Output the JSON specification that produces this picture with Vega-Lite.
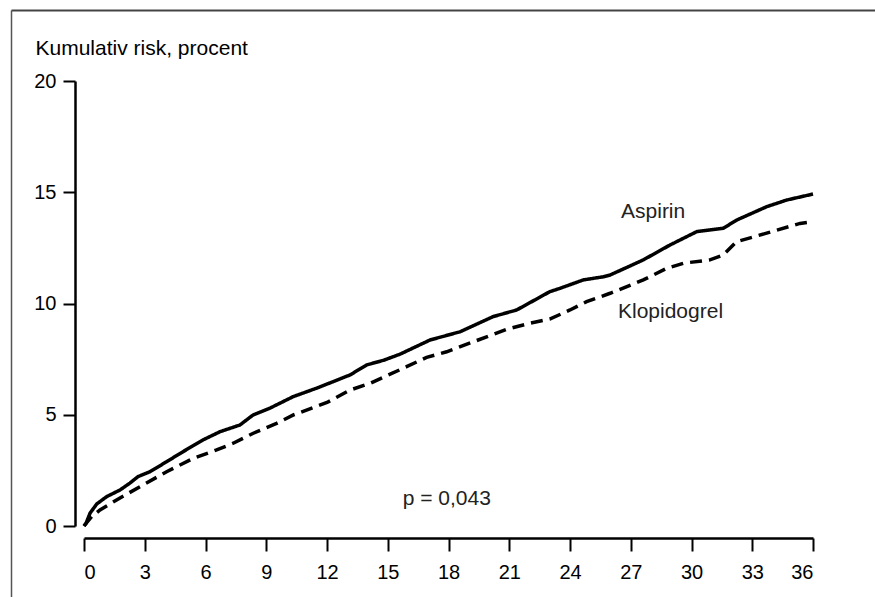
{
  "$schema": "https://vega.github.io/schema/vega-lite/v6.json",
  "width": 864,
  "height": 587,
  "autosize": {"type": "none"},
  "padding": {"left": 11, "top": 10, "right": 0, "bottom": 0},
  "background": "white",
  "config": {
    "font": "Liberation Sans",
    "view": {"stroke": null},
    "axis": {"labelColor": "black", "labelFont": "Liberation Sans", "titleFont": "Liberation Sans"}
  },
  "datasets": {
    "curves": [
      {"series": "Aspirin", "month": 0, "risk": 0},
      {"series": "Aspirin", "month": 0.1, "risk": 0.12},
      {"series": "Aspirin", "month": 0.3, "risk": 0.58},
      {"series": "Aspirin", "month": 0.63, "risk": 0.99},
      {"series": "Aspirin", "month": 1.12, "risk": 1.32},
      {"series": "Aspirin", "month": 1.78, "risk": 1.62},
      {"series": "Aspirin", "month": 2.27, "risk": 1.93},
      {"series": "Aspirin", "month": 2.67, "risk": 2.22},
      {"series": "Aspirin", "month": 3.26, "risk": 2.44},
      {"series": "Aspirin", "month": 4.08, "risk": 2.89},
      {"series": "Aspirin", "month": 4.89, "risk": 3.34},
      {"series": "Aspirin", "month": 5.88, "risk": 3.87},
      {"series": "Aspirin", "month": 6.72, "risk": 4.24},
      {"series": "Aspirin", "month": 7.7, "risk": 4.54},
      {"series": "Aspirin", "month": 8.35, "risk": 4.99},
      {"series": "Aspirin", "month": 9.19, "risk": 5.3},
      {"series": "Aspirin", "month": 10.32, "risk": 5.81},
      {"series": "Aspirin", "month": 11.5, "risk": 6.2},
      {"series": "Aspirin", "month": 12.2, "risk": 6.45},
      {"series": "Aspirin", "month": 13.14, "risk": 6.79},
      {"series": "Aspirin", "month": 13.96, "risk": 7.24},
      {"series": "Aspirin", "month": 14.8, "risk": 7.45},
      {"series": "Aspirin", "month": 15.6, "risk": 7.72},
      {"series": "Aspirin", "month": 17.09, "risk": 8.36},
      {"series": "Aspirin", "month": 18.57, "risk": 8.73},
      {"series": "Aspirin", "month": 20.2, "risk": 9.41},
      {"series": "Aspirin", "month": 21.37, "risk": 9.71},
      {"series": "Aspirin", "month": 23.0, "risk": 10.53},
      {"series": "Aspirin", "month": 23.5, "risk": 10.68},
      {"series": "Aspirin", "month": 24.66, "risk": 11.06},
      {"series": "Aspirin", "month": 25.64, "risk": 11.2},
      {"series": "Aspirin", "month": 25.98, "risk": 11.28},
      {"series": "Aspirin", "month": 27.62, "risk": 11.96},
      {"series": "Aspirin", "month": 28.94, "risk": 12.63},
      {"series": "Aspirin", "month": 30.26, "risk": 13.23},
      {"series": "Aspirin", "month": 31.57, "risk": 13.38},
      {"series": "Aspirin", "month": 32.23, "risk": 13.75},
      {"series": "Aspirin", "month": 33.71, "risk": 14.35},
      {"series": "Aspirin", "month": 34.7, "risk": 14.65},
      {"series": "Aspirin", "month": 36.0, "risk": 14.92},
      {"series": "Klopidogrel", "month": 0, "risk": 0},
      {"series": "Klopidogrel", "month": 0.38, "risk": 0.42},
      {"series": "Klopidogrel", "month": 0.79, "risk": 0.72},
      {"series": "Klopidogrel", "month": 1.61, "risk": 1.17},
      {"series": "Klopidogrel", "month": 2.77, "risk": 1.77},
      {"series": "Klopidogrel", "month": 4.08, "risk": 2.44},
      {"series": "Klopidogrel", "month": 5.4, "risk": 3.04},
      {"series": "Klopidogrel", "month": 6.55, "risk": 3.42},
      {"series": "Klopidogrel", "month": 7.37, "risk": 3.72},
      {"series": "Klopidogrel", "month": 8.36, "risk": 4.17},
      {"series": "Klopidogrel", "month": 9.51, "risk": 4.61},
      {"series": "Klopidogrel", "month": 10.34, "risk": 4.99},
      {"series": "Klopidogrel", "month": 12.0, "risk": 5.55},
      {"series": "Klopidogrel", "month": 13.14, "risk": 6.11},
      {"series": "Klopidogrel", "month": 14.12, "risk": 6.41},
      {"series": "Klopidogrel", "month": 15.93, "risk": 7.16},
      {"series": "Klopidogrel", "month": 16.92, "risk": 7.58},
      {"series": "Klopidogrel", "month": 17.91, "risk": 7.83},
      {"series": "Klopidogrel", "month": 19.23, "risk": 8.28},
      {"series": "Klopidogrel", "month": 20.87, "risk": 8.84},
      {"series": "Klopidogrel", "month": 22.02, "risk": 9.11},
      {"series": "Klopidogrel", "month": 23.0, "risk": 9.3},
      {"series": "Klopidogrel", "month": 24.0, "risk": 9.71},
      {"series": "Klopidogrel", "month": 24.82, "risk": 10.08},
      {"series": "Klopidogrel", "month": 25.98, "risk": 10.46},
      {"series": "Klopidogrel", "month": 27.62, "risk": 11.06},
      {"series": "Klopidogrel", "month": 28.77, "risk": 11.58},
      {"series": "Klopidogrel", "month": 29.6, "risk": 11.81},
      {"series": "Klopidogrel", "month": 30.91, "risk": 11.96},
      {"series": "Klopidogrel", "month": 31.57, "risk": 12.18},
      {"series": "Klopidogrel", "month": 32.23, "risk": 12.78},
      {"series": "Klopidogrel", "month": 33.71, "risk": 13.16},
      {"series": "Klopidogrel", "month": 35.36, "risk": 13.6},
      {"series": "Klopidogrel", "month": 36.0, "risk": 13.68}
    ],
    "labels": [
      {"label": "Aspirin", "month": 26.52, "risk": 13.84},
      {"label": "Klopidogrel", "month": 26.37, "risk": 9.35},
      {"label": "p = 0,043", "month": 15.74, "risk": 0.94}
    ]
  },
  "layer": [
    {
      "data": {"name": "labels"},
      "mark": {"type": "point", "opacity": 0},
      "encoding": {
        "x": {
          "field": "month", "type": "quantitative",
          "scale": {"domain": [0, 36], "nice": false, "zero": false},
          "axis": {"orient": "top", "values": [0], "grid": true, "gridColor": "#555555", "gridWidth": 1.5, "domain": false, "ticks": false, "labels": false, "title": null}
        },
        "y": {
          "field": "risk", "type": "quantitative",
          "scale": {"domain": [0, 20], "nice": false, "zero": false},
          "axis": {"orient": "left", "values": [20], "grid": true, "gridColor": "#444444", "gridWidth": 2, "domain": false, "ticks": false, "labels": false, "title": null}
        }
      }
    },
    {
      "layer": [
        {
          "data": {"name": "curves"},
          "mark": {"type": "line", "color": "black", "strokeWidth": 3.5, "strokeCap": "butt"},
          "encoding": {
            "x": {
              "field": "month", "type": "quantitative",
              "scale": {"domain": [0, 36], "range": [73, 802], "nice": false, "zero": false},
              "axis": {
                "orient": "bottom", "offset": -59, "values": [0, 3, 6, 9, 12, 15, 18, 21, 24, 27, 30, 33, 36],
                "grid": false, "domainColor": "black", "domainWidth": 2.5, "tickColor": "black", "tickWidth": 2, "tickSize": 13,
                "labelFontSize": 20, "labelPadding": 11, "title": null
              }
            },
            "y": {
              "field": "risk", "type": "quantitative",
              "scale": {"domain": [0, 20], "range": [516, 71], "nice": false, "zero": false},
              "axis": {
                "orient": "left", "offset": -64, "values": [0, 5, 10, 15, 20],
                "grid": false, "domainColor": "black", "domainWidth": 2.5, "tickColor": "black", "tickWidth": 2, "tickSize": 12,
                "labelFontSize": 20, "labelPadding": 7,
                "title": "Kumulativ risk, procent", "titleAngle": 0, "titleX": -40, "titleY": 44,
                "titleAlign": "left", "titleBaseline": "alphabetic", "titleFontSize": 21, "titleFontWeight": "normal", "titleColor": "black"
              }
            },
            "strokeDash": {
              "field": "series", "type": "nominal",
              "scale": {"domain": ["Aspirin", "Klopidogrel"], "range": [[1, 0], [12, 7]]},
              "legend": null
            }
          }
        },
        {
          "data": {"name": "labels"},
          "mark": {"type": "text", "align": "left", "baseline": "alphabetic", "fontSize": 21, "color": "#222222", "font": "Liberation Sans"},
          "encoding": {
            "x": {"field": "month", "type": "quantitative"},
            "y": {"field": "risk", "type": "quantitative"},
            "text": {"field": "label"}
          }
        }
      ]
    }
  ],
  "resolve": {"scale": {"x": "independent", "y": "independent"}, "axis": {"x": "independent", "y": "independent"}}
}
